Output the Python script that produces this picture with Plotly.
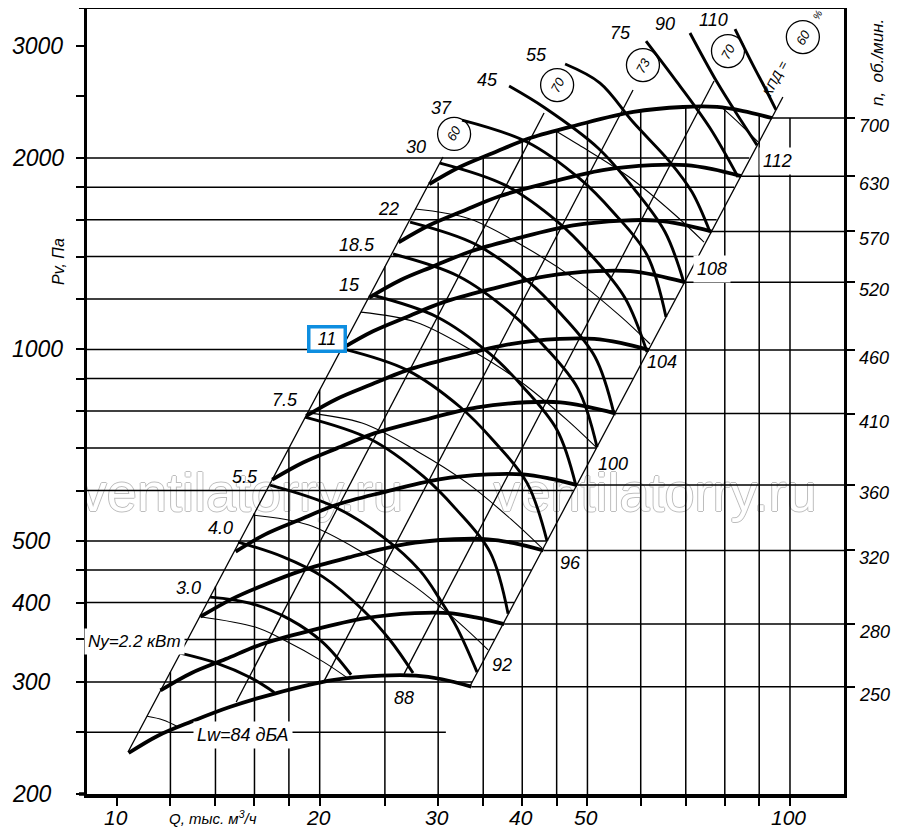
import math
import plotly.graph_objects as go

FONT = "Liberation Sans"

# axis ranges (Q in thousand m3/h, Pv in Pa)
q_range = [9.02, 120.3]
p_range = [200, 3443]

q_tick_vals = [10, 12, 14, 16, 18, 20, 25, 30, 35, 40, 45, 50, 60, 70, 80, 90, 100]
q_label_vals = [10, 20, 30, 40, 50, 100]
p_tick_vals = [200, 250, 300, 350, 400, 450, 500, 600, 700, 800, 900, 1000,
               1200, 1400, 1600, 1800, 2000, 2500, 3000]
p_label_vals = [200, 300, 400, 500, 1000, 2000, 3000]

# grid: vertical lines up to the top envelope, horizontal lines to the right boundary
grid_q = [12, 14, 16, 18, 20, 25, 30, 35, 40, 45, 50, 60, 70, 80, 90, 100]
grid_q_top = [311, 424, 553, 700, 864, 1350, 1830, 2006, 2125, 2206, 2272, 2369, 2406, 2396, 2330, 2312]
grid_p = [250, 300, 350, 400, 450, 500, 600, 700, 800, 900, 1000, 1200, 1400, 1600, 1800, 2000]
grid_p_right = [30.8, 33.7, 36.4, 38.9, 41.3, 43.5, 47.7, 51.5, 55.0, 58.4, 61.5, 67.4, 72.8, 77.8, 82.6, 87.0]

# fan curves, n = rpm
rpm = [250, 280, 320, 360, 410, 460, 520, 570, 630, 700]
rpm_q = [
    [10.4, 11.5, 12.9, 14.7, 17.2, 20.9, 24.7, 27.8, 30.4, 33.6],
    [11.6, 12.9, 14.5, 16.4, 19.3, 23.4, 27.7, 31.2, 34.1, 37.6],
    [13.3, 14.8, 16.5, 18.8, 22.1, 26.7, 31.7, 35.6, 38.9, 43.0],
    [15.0, 16.6, 18.6, 21.1, 24.8, 30.1, 35.6, 40.1, 43.8, 48.3],
    [17.0, 18.9, 21.2, 24.1, 28.3, 34.3, 40.6, 45.6, 49.9, 55.1],
    [19.1, 21.2, 23.8, 27.0, 31.7, 38.4, 45.5, 51.2, 56.0, 61.8],
    [21.6, 24.0, 26.9, 30.5, 35.9, 43.5, 51.5, 57.9, 63.3, 69.8],
    [23.7, 26.3, 29.5, 33.5, 39.3, 47.6, 56.4, 63.4, 69.4, 76.5],
    [26.2, 29.1, 32.6, 37.0, 43.5, 52.7, 62.4, 70.1, 76.7, 84.6],
    [29.1, 32.3, 36.2, 41.1, 48.3, 58.5, 69.3, 77.9, 85.2, 94.0],
]
rpm_p = [
    [232, 247, 260, 274, 288, 302, 307, 307, 303, 295],
    [291, 310, 326, 344, 361, 378, 385, 385, 379, 370],
    [380, 405, 426, 449, 471, 494, 503, 503, 496, 483],
    [481, 512, 539, 569, 596, 625, 636, 636, 627, 612],
    [624, 664, 699, 738, 773, 811, 826, 826, 813, 793],
    [786, 836, 880, 928, 973, 1020, 1039, 1039, 1024, 998],
    [1004, 1068, 1124, 1186, 1244, 1304, 1328, 1328, 1308, 1276],
    [1207, 1284, 1351, 1426, 1495, 1567, 1595, 1595, 1572, 1533],
    [1474, 1568, 1650, 1742, 1826, 1914, 1949, 1949, 1921, 1873],
    [1820, 1936, 2037, 2150, 2254, 2363, 2406, 2406, 2371, 2312],
]

# motor power lines, kW
power_text = ["Ny=2.2 кВт", "3.0", "4.0", "5.5", "7.5", "11", "15", "18.5", "22",
              "30", "37", "45", "55", "75", "90", "110"]
power_q = [
    [12.41, 14.08, 15.77, 17.12],
    [13.75, 15.77, 18.08, 20.23, 22.27],
    [15.13, 17.64, 20.23, 23.21, 25.45, 27.53],
    [16.88, 20.94, 24.85, 28.19, 30.30, 32.00, 34.27],
    [19.02, 23.77, 28.49, 31.89, 35.83, 38.11],
    [21.59, 26.97, 32.34, 36.20, 40.66, 43.54],
    [23.93, 29.89, 35.83, 40.11, 45.06, 48.08],
    [25.71, 32.11, 38.49, 43.10, 48.42, 51.67],
    [27.25, 34.03, 40.80, 45.67, 51.32, 54.76],
    [30.19, 37.72, 45.21, 50.62, 56.86, 61.31],
    [32.55, 40.66, 48.75, 54.57, 61.31, 65.42],
    [38.24, 43.25, 51.84, 58.84, 65.21, 69.59],
    [46.32, 52.20, 58.44, 66.33, 71.51, 76.05],
    [61.10, 67.94, 76.05, 83.70],
    [71.02, 77.89, 84.86, 89.33],
    [82.85, 88.11, 91.81, 95.33],
]
power_p = [
    [333, 321, 305, 289],
    [408, 399, 376, 346, 308],
    [498, 472, 439, 389, 349, 310],
    [612, 567, 507, 449, 402, 365, 311],
    [783, 723, 632, 561, 480, 384],
    [1003, 928, 812, 720, 617, 500],
    [1218, 1125, 984, 873, 747, 610],
    [1413, 1305, 1141, 1013, 867, 702],
    [1586, 1465, 1281, 1137, 973, 792],
    [1964, 1813, 1586, 1408, 1205, 991],
    [2295, 2120, 1854, 1645, 1408, 1125],
    [2595, 2397, 2074, 1781, 1530, 1272],
    [2811, 2624, 2278, 1971, 1768, 1530],
    [3055, 2633, 2229, 1867],
    [3145, 2633, 2278, 2096],
    [3190, 2800, 2577, 2380],
]
power_label_q = [10.60, 12.75, 14.22, 15.50, 17.77, 20.51, 22.12, 22.73, 25.27,
                 27.81, 30.30, 35.47, 41.94, 55.90, 65.21, 76.84]
power_label_p = [348, 422, 524, 630, 833, 1039, 1263, 1460, 1663,
                 2081, 2397, 2654, 2904, 3145, 3249, 3296]

# sound power lines, dBA
noise_text = ["Lw=84 дБА", "88", "92", "96", "100", "104", "108", "112"]
noise_q = [
    [11.08, 11.70, 12.32],
    [13.28, 16.04, 17.64, 20.23, 22.04],
    [15.93, 19.22, 23.21, 27.53, 32.11, 35.59],
    [19.16, 23.12, 27.91, 33.11, 38.63, 42.80],
    [23.04, 27.81, 33.57, 39.83, 46.48, 51.50],
    [27.72, 33.45, 40.38, 47.91, 55.90, 61.94],
    [45.06, 48.59, 57.65, 67.24, 74.51],
    [79.25, 84.27, 89.65],
]
noise_p = [
    [265, 261.5, 255],
    [380, 366, 350, 323, 304],
    [549, 530, 479, 426, 373, 337],
    [795, 766, 692, 617, 539, 487],
    [1145, 1104, 998, 889, 777, 702],
    [1663, 1604, 1449, 1290, 1129, 1020],
    [2200, 2096, 1867, 1633, 1475],
    [2400, 2262, 2120],
]
noise_label_q = [15.39, 26.70, 37.33, 47.11, 54.57, 64.53, 76.57, 95.65]
noise_label_p = [247.6, 283, 319, 461.5, 661, 955, 1338, 1978]

# efficiency lines, %
eff_text = ["60", "70", "73", "70", "60"]
eff_q = [[10.38, 30.5], [15.03, 43.10], [20.30, 58.44], [26.70, 77.11], [33.46, 97.6]]
eff_p = [[232.8, 2007], [279, 2354], [301, 2558], [309, 2643], [295.7, 2494]]
eff_circle_q = [31.68, 45.07, 60.46, 80.88, 104.5]
eff_circle_p = [2182, 2605, 2800, 2946, 3099]

watermark_q = [15.3, 63.0]
watermark_p = [586, 586]


def font(size, italic=True):
    return dict(family=FONT, size=size, color="black", style="italic" if italic else "normal")


fig = go.Figure()

fig.add_trace(go.Scatter(
    x=watermark_q, y=watermark_p, mode="text", text=["ventilatorry.ru"] * 2,
    textfont=dict(family=FONT, size=54, color="white",
                  shadow="-1px 0 0 #bdbdbd, 1px 0 0 #bdbdbd, 0 -1px 0 #bdbdbd, 0 1px 0 #bdbdbd"),
    hoverinfo="skip",
))

gx, gy = [], []
for q, top in zip(grid_q, grid_q_top):
    gx += [q, q, None]
    gy += [190, top, None]
for p, qr in zip(grid_p, grid_p_right):
    gx += [8.5, qr, None]
    gy += [p, p, None]
fig.add_trace(go.Scatter(x=gx, y=gy, mode="lines", line=dict(color="black", width=1.5), hoverinfo="skip"))

# rpm end lines to the right axis
ex, ey = [], []
for qs, ps in zip(rpm_q, rpm_p):
    ex += [qs[-1], 130, None]
    ey += [ps[-1], ps[-1], None]
fig.add_trace(go.Scatter(x=ex, y=ey, mode="lines", yaxis="y2",
                         line=dict(color="black", width=1.5), hoverinfo="skip"))

for qs, ps in zip(eff_q, eff_p):
    fig.add_trace(go.Scatter(x=qs, y=ps, mode="lines", line=dict(color="black", width=1.3), hoverinfo="skip"))

for qs, ps in zip(noise_q, noise_p):
    fig.add_trace(go.Scatter(x=qs, y=ps, mode="lines", line=dict(color="black", width=1.1, shape="spline"),
                             hoverinfo="skip"))

for qs, ps in zip(power_q, power_p):
    fig.add_trace(go.Scatter(x=qs, y=ps, mode="lines", line=dict(color="black", width=2.9, shape="spline"),
                             hoverinfo="skip"))

for qs, ps in zip(rpm_q, rpm_p):
    fig.add_trace(go.Scatter(x=qs, y=ps, mode="lines", line=dict(color="black", width=3.8, shape="spline"),
                             hoverinfo="skip"))

fig.add_trace(go.Scatter(
    x=eff_circle_q, y=eff_circle_p, mode="markers", hoverinfo="skip",
    marker=dict(symbol="circle-open", size=33, color="black", line=dict(width=1.3)),
))

lg = math.log10

for q, p, t in zip(eff_circle_q, eff_circle_p, eff_text):
    fig.add_annotation(x=lg(q), y=lg(p), text=t, showarrow=False, textangle=-62, font=font(13))
fig.add_annotation(x=lg(95.0), y=lg(2672), text="КПД =", showarrow=False, textangle=-62, font=font(13))
fig.add_annotation(x=lg(109.7), y=lg(3356), text="%", showarrow=False, textangle=-62, font=font(10))

for q, p, t in zip(power_label_q, power_label_p, power_text):
    if t == "11":
        fig.add_annotation(x=lg(q), y=lg(p), text=t, showarrow=False, font=font(18),
                           bgcolor="white", bordercolor="#0e8ee0", borderwidth=3.5, borderpad=2,
                           width=29, height=17)
    elif t.startswith("Ny"):
        fig.add_annotation(x=lg(q), y=lg(p), text=t, showarrow=False, font=font(17),
                           bgcolor="white", borderpad=3)
    else:
        fig.add_annotation(x=lg(q), y=lg(p), text=t, showarrow=False, font=font(18))

for q, p, t in zip(noise_label_q, noise_label_p, noise_text):
    bg = "white" if t in ("Lw=84 дБА", "108", "112") else None
    fig.add_annotation(x=lg(q), y=lg(p), text=t, showarrow=False, font=font(18),
                       bgcolor=bg, borderpad=3 if bg else 1)

for v in p_label_vals:
    fig.add_annotation(xref="paper", x=-0.1017, xanchor="left", y=lg(v), yanchor="middle",
                       text=str(v), showarrow=False, font=font(23))

for v in q_label_vals:
    fig.add_annotation(x=lg(v), xanchor="center", xshift=-1, yref="paper", y=-0.0305, yanchor="middle",
                       text=str(v), showarrow=False, font=font(21))

for n, ps in zip(rpm, rpm_p):
    fig.add_annotation(xref="paper", x=1.0172, xanchor="left", y=lg(ps[-1]), yanchor="top", yshift=4,
                       text=str(n), showarrow=False, font=font(18))

fig.add_annotation(xref="paper", yref="paper", x=-0.0383, y=0.6768, xanchor="center", yanchor="middle",
                   text="Pv, Па", textangle=-90, showarrow=False, font=font(16))
fig.add_annotation(xref="paper", yref="paper", x=0.1664, y=-0.0305, xanchor="center", yanchor="middle",
                   text="Q, тыс. м<sup>3</sup>/ч", showarrow=False, font=font(15))
fig.add_annotation(xref="paper", yref="paper", x=1.0436, y=0.930, xanchor="center", yanchor="middle",
                   text="n,  об./мин.", textangle=-90, showarrow=False, font=font(17))

# top frame line and bottom line extension
fig.add_shape(type="line", xref="paper", yref="paper", x0=-0.0106, x1=1, y0=1, y1=1,
              line=dict(color="black", width=2))
fig.add_shape(type="line", xref="paper", yref="paper", x0=-0.0106, x1=0, y0=0, y1=0,
              line=dict(color="black", width=3.5))

# the page body adds an 8 px offset, so the figure is 8 px smaller on each side
fig.update_layout(
    width=892, height=826,
    margin=dict(l=79, r=56, t=0, b=40),
    plot_bgcolor="white", paper_bgcolor="white",
    showlegend=False,
    xaxis=dict(type="log", range=[lg(q_range[0]), lg(q_range[1])], showgrid=False, zeroline=False,
               automargin=False,
               showline=True, linewidth=3.5, linecolor="black",
               ticks="outside", ticklen=8, tickwidth=1.5, tickcolor="black",
               tickvals=q_tick_vals, showticklabels=False),
    yaxis=dict(type="log", range=[lg(p_range[0]), lg(p_range[1])], showgrid=False, zeroline=False,
               automargin=False,
               showline=True, linewidth=3, linecolor="black",
               ticks="outside", ticklen=8, tickwidth=1.5, tickcolor="black",
               tickvals=p_tick_vals, showticklabels=False),
    yaxis2=dict(type="log", range=[lg(p_range[0]), lg(p_range[1])], overlaying="y", side="right",
                anchor="x", showgrid=False, zeroline=False, automargin=False,
                showline=True, linewidth=3, linecolor="black",
                ticks="outside", ticklen=8, tickwidth=1.5, tickcolor="black",
                tickvals=[ps[-1] for ps in rpm_p], showticklabels=False),
)

fig.write_html("out.html")
